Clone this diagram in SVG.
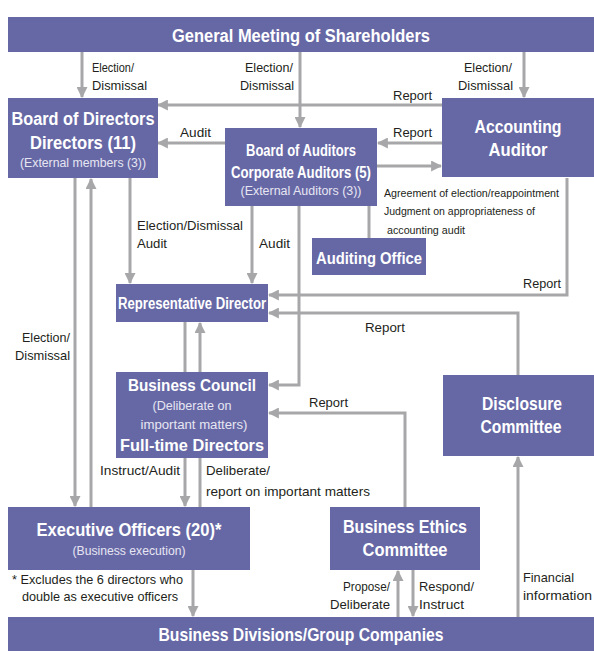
<svg xmlns="http://www.w3.org/2000/svg" width="594" height="651" viewBox="0 0 594 651">
<defs>
<style>
.box{fill:#6668a6}
.t{font-family:"Liberation Sans",Arial,sans-serif;fill:#fff;font-weight:bold;text-anchor:middle}
.s{font-family:"Liberation Sans",Arial,sans-serif;fill:#e6e6f2;font-size:12px;text-anchor:middle}
.l{font-family:"Liberation Sans",Arial,sans-serif;fill:#231f20;font-size:13.5px}
.n{font-size:11.5px}
.c{fill:none;stroke:#a7a7aa;stroke-width:3}
</style>
<marker id="ah" viewBox="0 0 10 10" refX="9" refY="5" markerWidth="11" markerHeight="11" markerUnits="userSpaceOnUse" orient="auto">
<path d="M0,0 L10,5 L0,10 z" fill="#a7a7aa"/>
</marker>
</defs>
<rect width="594" height="651" fill="#fff"/>

<g id="connectors">
<path class="c" d="M82,52 V97" marker-end="url(#ah)"/>
<path class="c" d="M300,52 V127" marker-end="url(#ah)"/>
<path class="c" d="M524,52 V97" marker-end="url(#ah)"/>
<path class="c" d="M442,105 H158" marker-end="url(#ah)"/>
<path class="c" d="M225,143 H158" marker-end="url(#ah)"/>
<path class="c" d="M442,143 H378" marker-end="url(#ah)"/>
<path class="c" d="M377,166 H441" marker-end="url(#ah)"/>
<path class="c" d="M130,178 V283" marker-end="url(#ah)"/>
<path class="c" d="M252,206 V283" marker-end="url(#ah)"/>
<path class="c" d="M299,206 V385 H269" marker-end="url(#ah)"/>
<path class="c" d="M369,206 V238"/>
<path class="c" d="M567,178 V295 H269" marker-end="url(#ah)"/>
<path class="c" d="M518,375 V313 H269" marker-end="url(#ah)"/>
<path class="c" d="M75,178 V506" marker-end="url(#ah)"/>
<path class="c" d="M91,507 V179" marker-end="url(#ah)"/>
<path class="c" d="M185,322 V372"/>
<path class="c" d="M200,372 V323" marker-end="url(#ah)"/>
<path class="c" d="M185,458 V506" marker-end="url(#ah)"/>
<path class="c" d="M200,458 V507"/>
<path class="c" d="M405,507 V413 H269" marker-end="url(#ah)"/>
<path class="c" d="M193,570 V616" marker-end="url(#ah)"/>
<path class="c" d="M398,617 V571" marker-end="url(#ah)"/>
<path class="c" d="M413,570 V616" marker-end="url(#ah)"/>
<path class="c" d="M518,617 V457" marker-end="url(#ah)"/>
</g>

<g id="labels">
<text class="l" x="92" y="72" textLength="42" lengthAdjust="spacingAndGlyphs">Election/</text>
<text class="l" x="92" y="90" textLength="55" lengthAdjust="spacingAndGlyphs">Dismissal</text>
<text class="l" x="245" y="72" textLength="48" lengthAdjust="spacingAndGlyphs">Election/</text>
<text class="l" x="240" y="90" textLength="54" lengthAdjust="spacingAndGlyphs">Dismissal</text>
<text class="l" x="464" y="72" textLength="48" lengthAdjust="spacingAndGlyphs">Election/</text>
<text class="l" x="458" y="90" textLength="55" lengthAdjust="spacingAndGlyphs">Dismissal</text>
<text class="l" x="393" y="100" textLength="39" lengthAdjust="spacingAndGlyphs">Report</text>
<text class="l" x="180" y="137" textLength="31" lengthAdjust="spacingAndGlyphs">Audit</text>
<text class="l" x="393" y="137" textLength="39" lengthAdjust="spacingAndGlyphs">Report</text>
<text class="l n" x="384" y="197" textLength="175" lengthAdjust="spacingAndGlyphs">Agreement of election/reappointment</text>
<text class="l n" x="384" y="215" textLength="151" lengthAdjust="spacingAndGlyphs">Judgment on appropriateness of</text>
<text class="l n" x="387" y="234" textLength="78" lengthAdjust="spacingAndGlyphs">accounting audit</text>
<text class="l" x="137" y="230" textLength="106" lengthAdjust="spacingAndGlyphs">Election/Dismissal</text>
<text class="l" x="137" y="248" textLength="30" lengthAdjust="spacingAndGlyphs">Audit</text>
<text class="l" x="259" y="248" textLength="31" lengthAdjust="spacingAndGlyphs">Audit</text>
<text class="l" x="523" y="288" textLength="38" lengthAdjust="spacingAndGlyphs">Report</text>
<text class="l" x="365" y="332" textLength="40" lengthAdjust="spacingAndGlyphs">Report</text>
<text class="l" x="22" y="342" textLength="48" lengthAdjust="spacingAndGlyphs">Election/</text>
<text class="l" x="15" y="360" textLength="55" lengthAdjust="spacingAndGlyphs">Dismissal</text>
<text class="l" x="309" y="407" textLength="39" lengthAdjust="spacingAndGlyphs">Report</text>
<text class="l" x="100" y="475" textLength="80" lengthAdjust="spacingAndGlyphs">Instruct/Audit</text>
<text class="l" x="206" y="475" textLength="64" lengthAdjust="spacingAndGlyphs">Deliberate/</text>
<text class="l" x="206" y="496" textLength="164" lengthAdjust="spacingAndGlyphs">report on important matters</text>
<text class="l" x="12" y="584" textLength="171" lengthAdjust="spacingAndGlyphs">* Excludes the 6 directors who</text>
<text class="l" x="22" y="601" textLength="156" lengthAdjust="spacingAndGlyphs">double as executive officers</text>
<text class="l" x="343" y="591" textLength="47" lengthAdjust="spacingAndGlyphs">Propose/</text>
<text class="l" x="330" y="609" textLength="60" lengthAdjust="spacingAndGlyphs">Deliberate</text>
<text class="l" x="419" y="591" textLength="55" lengthAdjust="spacingAndGlyphs">Respond/</text>
<text class="l" x="419" y="609" textLength="45" lengthAdjust="spacingAndGlyphs">Instruct</text>
<text class="l" x="523" y="582" textLength="51" lengthAdjust="spacingAndGlyphs">Financial</text>
<text class="l" x="523" y="600" textLength="69" lengthAdjust="spacingAndGlyphs">information</text>
</g>

<g id="shareholders">
<rect class="box" x="8" y="17" width="586" height="35"/>
<text class="t" x="301" y="42" font-size="18" textLength="258" lengthAdjust="spacingAndGlyphs">General Meeting of Shareholders</text>
</g>
<g id="board-directors">
<rect class="box" x="8" y="98" width="150" height="80"/>
<text class="t" x="83" y="125" font-size="18" textLength="143" lengthAdjust="spacingAndGlyphs">Board of Directors</text>
<text class="t" x="83" y="149" font-size="18" textLength="106" lengthAdjust="spacingAndGlyphs">Directors (11)</text>
<text class="s" x="83" y="167" textLength="126" lengthAdjust="spacingAndGlyphs">(External members (3))</text>
</g>
<g id="board-auditors">
<rect class="box" x="225" y="128" width="152" height="78"/>
<text class="t" x="301" y="156" font-size="16.5" textLength="110" lengthAdjust="spacingAndGlyphs">Board of Auditors</text>
<text class="t" x="301" y="178" font-size="16.5" textLength="140" lengthAdjust="spacingAndGlyphs">Corporate Auditors (5)</text>
<text class="s" x="301" y="195" textLength="121" lengthAdjust="spacingAndGlyphs">(External Auditors (3))</text>
</g>
<g id="accounting-auditor">
<rect class="box" x="442" y="98" width="152" height="79"/>
<text class="t" x="518" y="133" font-size="18" textLength="87" lengthAdjust="spacingAndGlyphs">Accounting</text>
<text class="t" x="518" y="156" font-size="18" textLength="59" lengthAdjust="spacingAndGlyphs">Auditor</text>
</g>
<g id="auditing-office">
<rect class="box" x="312" y="238" width="114" height="37"/>
<text class="t" x="369" y="264" font-size="17" textLength="106" lengthAdjust="spacingAndGlyphs">Auditing Office</text>
</g>
<g id="representative-director">
<rect class="box" x="116" y="284" width="152" height="38"/>
<text class="t" x="192" y="309" font-size="16" textLength="148" lengthAdjust="spacingAndGlyphs">Representative Director</text>
</g>
<g id="business-council">
<rect class="box" x="116" y="372" width="152" height="86"/>
<text class="t" x="192" y="391" font-size="17" textLength="128" lengthAdjust="spacingAndGlyphs">Business Council</text>
<text class="s" x="192" y="410" textLength="79" lengthAdjust="spacingAndGlyphs">(Deliberate on</text>
<text class="s" x="194" y="429" textLength="107" lengthAdjust="spacingAndGlyphs">important matters)</text>
<text class="t" x="192" y="451" font-size="17" textLength="144" lengthAdjust="spacingAndGlyphs">Full-time Directors</text>
</g>
<g id="disclosure-committee">
<rect class="box" x="443" y="375" width="151" height="81"/>
<text class="t" x="522" y="410" font-size="18" textLength="80" lengthAdjust="spacingAndGlyphs">Disclosure</text>
<text class="t" x="521" y="433" font-size="18" textLength="81" lengthAdjust="spacingAndGlyphs">Committee</text>
</g>
<g id="executive-officers">
<rect class="box" x="8" y="507" width="242" height="63"/>
<text class="t" x="129" y="536" font-size="18" textLength="185" lengthAdjust="spacingAndGlyphs">Executive Officers (20)*</text>
<text class="s" x="129" y="555" textLength="113" lengthAdjust="spacingAndGlyphs">(Business execution)</text>
</g>
<g id="business-ethics">
<rect class="box" x="330" y="507" width="150" height="63"/>
<text class="t" x="405" y="533" font-size="18" textLength="124" lengthAdjust="spacingAndGlyphs">Business Ethics</text>
<text class="t" x="405" y="556" font-size="18" textLength="85" lengthAdjust="spacingAndGlyphs">Committee</text>
</g>
<g id="business-divisions">
<rect class="box" x="8" y="617" width="586" height="34"/>
<text class="t" x="301" y="641" font-size="18" textLength="285" lengthAdjust="spacingAndGlyphs">Business Divisions/Group Companies</text>
</g>
</svg>
